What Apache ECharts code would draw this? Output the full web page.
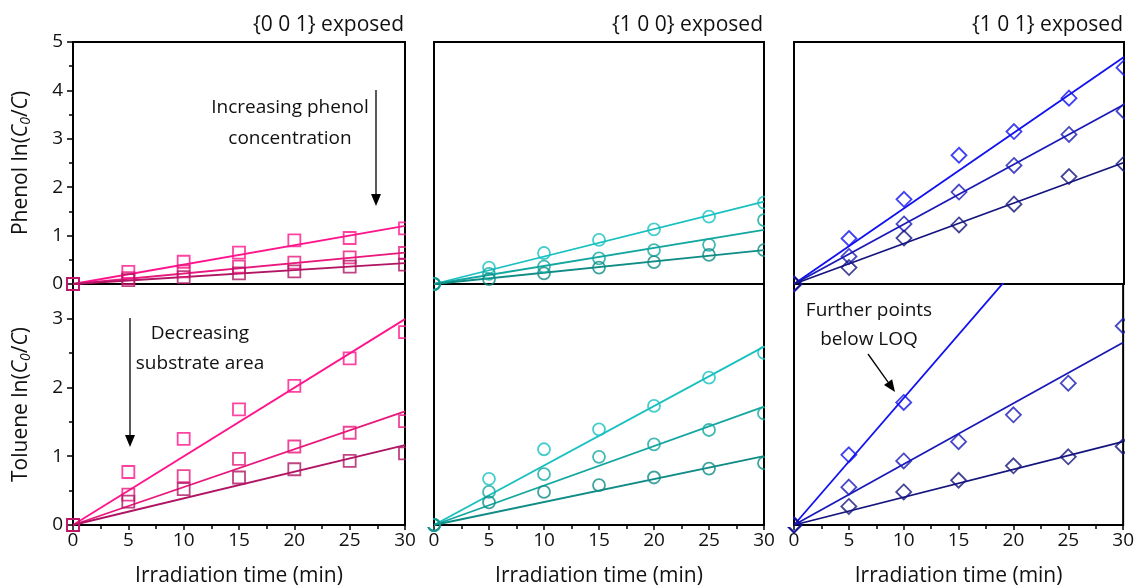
<!DOCTYPE html>
<html>
<head>
<meta charset="utf-8">
<script src="https://cdn.jsdelivr.net/npm/echarts@6/dist/echarts.min.js"></script>
<style>html,body{margin:0;padding:0;background:#fff}#c{width:1137px;height:588px}</style>
</head>
<body>
<div id="c"></div>
<script>
// ---- data ----
const times = [0, 5, 10, 15, 20, 25, 30];
const xTicks = [0, 5, 10, 15, 20, 25, 30];
const panelTitles = ['{0 0 1} exposed', '{1 0 0} exposed', '{1 0 1} exposed'];

// Phenol ln(C0/C), top row (three series each: high, mid, low)
const phenol001_a = [0, 0.25, 0.46, 0.65, 0.90, 0.95, 1.15];
const phenol001_b = [0, 0.12, 0.26, 0.36, 0.44, 0.55, 0.64];
const phenol001_c = [0, 0.08, 0.14, 0.22, 0.26, 0.36, 0.40];
const phenol001_fit = [1.20, 0.65, 0.43];

const phenol100_a = [0, 0.34, 0.64, 0.91, 1.13, 1.39, 1.68];
const phenol100_b = [0, 0.21, 0.36, 0.53, 0.70, 0.81, 1.32];
const phenol100_c = [0, 0.10, 0.22, 0.34, 0.45, 0.60, 0.70];
const phenol100_fit = [1.70, 1.12, 0.70];

const phenol101_a = [0, 0.94, 1.75, 2.66, 3.15, 3.84, 4.47];
const phenol101_b = [0, 0.57, 1.24, 1.90, 2.45, 3.09, 3.57];
const phenol101_c = [0, 0.34, 0.95, 1.22, 1.65, 2.22, 2.48];
const phenol101_fit = [4.69, 3.71, 2.51];

// Toluene ln(C0/C), bottom row
const toluene001_a = [0, 0.77, 1.25, 1.68, 2.02, 2.42, 2.80];
const toluene001_b = [0, 0.44, 0.71, 0.96, 1.14, 1.34, 1.51];
const toluene001_c = [0, 0.34, 0.52, 0.69, 0.81, 0.93, 1.04];
const toluene001_fit = [2.99, 1.65, 1.16];

const toluene100_a = [0, 0.67, 1.10, 1.39, 1.73, 2.14, 2.50];
const toluene100_b = [0, 0.48, 0.74, 0.99, 1.17, 1.38, 1.62];
const toluene100_c = [0, 0.33, 0.48, 0.58, 0.69, 0.82, 0.90];
const toluene100_fit = [2.59, 1.72, 1.00];

const toluene101_a = [0, 1.02, 1.78, null, null, null, null];
const toluene101_b = [0, 0.55, 0.93, 1.21, 1.60, 2.06, 2.89];
const toluene101_c = [0, 0.27, 0.48, 0.65, 0.86, 0.99, 1.14];
const toluene101_fit = [5.53, 2.65, 1.21];

const topTicks = [0, 1, 2, 3, 4, 5];
const bottomTicks = [0, 1, 2, 3];

// ---- styling ----
const FONT = 'Open Sans';
const pinks = ['#ff148c', '#e8187c', '#b01463'];
const teals = ['#18c0c0', '#14a7a0', '#0f8c86'];
const blues = ['#1010f0', '#1a1ab8', '#14147e'];

const gridsX = [[73, 332], [434, 330], [794, 330]];
const grids = [];
gridsX.forEach(g => grids.push({left: g[0], top: 42, width: g[1], height: 242, show: true, borderColor: '#000', borderWidth: 2, backgroundColor: 'transparent'}));
gridsX.forEach(g => grids.push({left: g[0], top: 284, width: g[1], height: 241, show: true, borderColor: '#000', borderWidth: 2, backgroundColor: 'transparent'}));

const xAxes = [], yAxes = [];
for (let i = 0; i < 6; i++) {
  const bottom = i >= 3;
  xAxes.push({
    type: 'value', gridIndex: i, min: 0, max: 30, interval: 5,
    axisLine: {show: true, onZero: false, lineStyle: {color: '#000', width: 2}},
    axisTick: {show: bottom, inside: false, length: 5, lineStyle: {color: '#000', width: 1.5}},
    minorTick: {show: bottom, splitNumber: 2, length: 4, lineStyle: {color: '#000', width: 1.5}},
    axisLabel: {show: bottom, color: '#111', fontFamily: FONT, fontSize: 19, margin: 6,
      formatter: v => xTicks.includes(v) ? String(v) : ''},
    splitLine: {show: false},
    name: bottom ? 'Irradiation time (min)' : '', nameLocation: 'middle', nameGap: 41,
    nameTextStyle: {color: '#111', fontFamily: FONT, fontSize: 21}
  });
  const left = (i % 3) === 0;
  const ticks = bottom ? bottomTicks : topTicks;
  yAxes.push({
    type: 'value', gridIndex: i, min: 0, max: bottom ? 3.5 : 5, interval: 1,
    axisLine: {show: true, onZero: false, lineStyle: {color: '#000', width: 2}},
    axisTick: {show: left, inside: false, length: 6, lineStyle: {color: '#000', width: 1.5}},
    minorTick: {show: left, splitNumber: 2, length: 4, lineStyle: {color: '#000', width: 1.5}},
    axisLabel: {show: left, color: '#111', fontFamily: FONT, fontSize: 19, margin: 10,
      formatter: v => ticks.includes(v) ? String(v) : ''},
    splitLine: {show: false},
    name: left ? (bottom ? 'Toluene ln({i|C}{s|0}/{i|C})' : 'Phenol ln({i|C}{s|0}/{i|C})') : '',
    nameLocation: 'middle', nameRotate: 90, nameGap: 40,
    nameTextStyle: {color: '#111', fontFamily: FONT, fontSize: 21,
      rich: {
        i: {fontStyle: 'italic', fontFamily: FONT, fontSize: 21, color: '#111'},
        s: {fontStyle: 'italic', fontFamily: FONT, fontSize: 14, color: '#111', verticalAlign: 'bottom', padding: [10, 0, 0, 0]}
      }}
  });
}

const panels = [
  {vals: [phenol001_a, phenol001_b, phenol001_c], fit: phenol001_fit, colors: pinks, sym: 'rect', size: 12},
  {vals: [phenol100_a, phenol100_b, phenol100_c], fit: phenol100_fit, colors: teals, sym: 'circle', size: 12},
  {vals: [phenol101_a, phenol101_b, phenol101_c], fit: phenol101_fit, colors: blues, sym: 'diamond', size: 15},
  {vals: [toluene001_a, toluene001_b, toluene001_c], fit: toluene001_fit, colors: pinks, sym: 'rect', size: 12},
  {vals: [toluene100_a, toluene100_b, toluene100_c], fit: toluene100_fit, colors: teals, sym: 'circle', size: 12},
  {vals: [toluene101_a, toluene101_b, toluene101_c], fit: toluene101_fit, colors: blues, sym: 'diamond', size: 15}
];

const series = [];
panels.forEach((p, i) => {
  p.vals.forEach((arr, k) => {
    series.push({
      type: 'line', xAxisIndex: i, yAxisIndex: i, clip: true, silent: true,
      data: [[times[0], 0], [times[times.length - 1], p.fit[k]]],
      showSymbol: false, symbol: 'none',
      lineStyle: {color: p.colors[k], width: 1.8}, z: 2
    });
    series.push({
      type: 'scatter', xAxisIndex: i, yAxisIndex: i, clip: false, silent: true,
      data: times.map((t, j) => arr[j] == null ? null : [t, arr[j]]).filter(d => d),
      symbol: p.sym, symbolSize: p.size,
      itemStyle: {color: 'rgba(0,0,0,0)', borderColor: p.colors[k], borderWidth: 1.8}, z: 3
    });
  });
});

const titles = panelTitles.map((t, i) => ({
  text: t, right: 1137 - (gridsX[i][0] + gridsX[i][1]) + 1, top: 15, padding: 0,
  textStyle: {color: '#111', fontFamily: FONT, fontSize: 21, fontWeight: 'normal'}
}));

function arrow(x1, y1, x2, y2) {
  const ang = Math.atan2(y2 - y1, x2 - x1);
  const L = 12, W = 5;
  const bx = x2 - L * Math.cos(ang), by = y2 - L * Math.sin(ang);
  const px = -Math.sin(ang) * W, py = Math.cos(ang) * W;
  return [
    {type: 'line', shape: {x1, y1, x2: bx, y2: by}, style: {stroke: '#000', lineWidth: 1.3}, z: 20},
    {type: 'polygon', shape: {points: [[x2, y2], [bx + px, by + py], [bx - px, by - py]]}, style: {fill: '#000'}, z: 20}
  ];
}
const txt = (x, y, s) => ({type: 'text', x, y, z: 20, style: {text: s, fill: '#111', font: '19px "' + FONT + '"', textAlign: 'center', textVerticalAlign: 'middle'}});

const graphic = [
  // white masks outside plot frames (clip marker overflow)
  {type: 'rect', shape: {x: 406, y: 40, width: 27, height: 487}, style: {fill: '#fff'}, z: 10},
  {type: 'rect', shape: {x: 765, y: 40, width: 28, height: 487}, style: {fill: '#fff'}, z: 10},
  {type: 'rect', shape: {x: 1125, y: 40, width: 12, height: 487}, style: {fill: '#fff'}, z: 10},
  txt(290, 108, 'Increasing phenol'),
  txt(290, 139, 'concentration'),
  ...arrow(376, 90, 376, 206),
  txt(200, 334, 'Decreasing'),
  txt(200, 364, 'substrate area'),
  ...arrow(130, 318, 130, 447),
  txt(869, 311, 'Further points'),
  txt(869, 340, 'below LOQ'),
  ...arrow(868, 354, 895, 392)
];

const chart = echarts.init(document.getElementById('c'), null, {renderer: 'canvas'});
chart.setOption({
  backgroundColor: '#fff',
  animation: false,
  title: titles,
  grid: grids,
  xAxis: xAxes,
  yAxis: yAxes,
  series: series,
  graphic: graphic
});
</script>
</body>
</html>
